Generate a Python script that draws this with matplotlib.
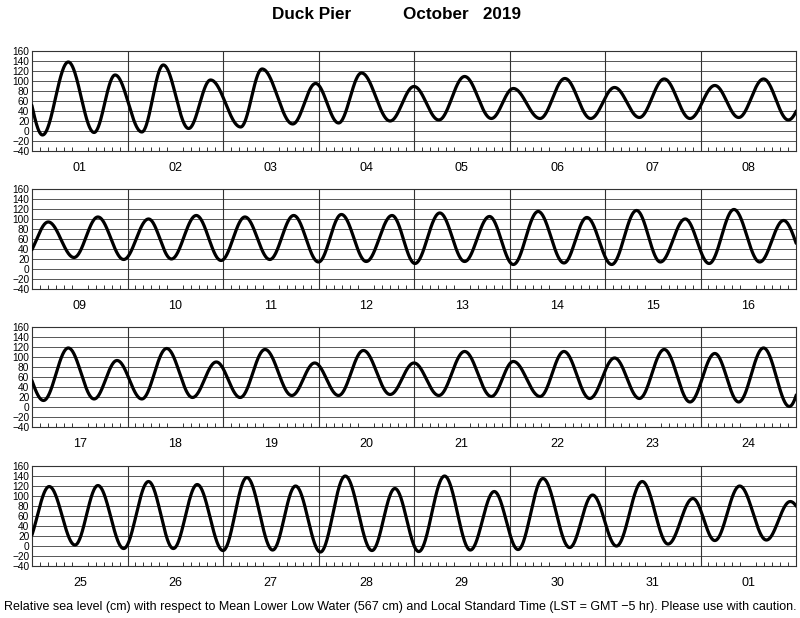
import numpy as np
import matplotlib
matplotlib.use("Agg")
import matplotlib.pyplot as plt

plt.rcParams['font.family'] = ['Liberation Sans', 'DejaVu Sans']

# high / low waters: time in days from Oct 1 00:00 LST, height in cm (MLLW)
ext_time = [
    -0.12, 0.11, 0.38, 0.65, 0.87, 1.15, 1.375, 1.64, 1.87, 2.185, 2.41, 2.73, 2.97, 3.21,
    3.45, 3.75, 4.00, 4.26, 4.53, 4.81, 5.04, 5.32, 5.58, 5.85, 6.10, 6.36, 6.62, 6.89,
    7.15, 7.40, 7.66, 7.92,
    8.17, 8.44, 8.69, 8.96, 9.22, 9.46, 9.72, 9.98, 10.23, 10.49, 10.74, 11.00, 11.24,
    11.50, 11.77, 12.01, 12.27, 12.53, 12.79, 13.04, 13.30, 13.57, 13.81, 14.07, 14.33,
    14.58, 14.84, 15.09, 15.35, 15.62, 15.87,
    16.12, 16.38, 16.65, 16.89, 17.15, 17.41, 17.68, 17.93, 18.18, 18.44, 18.72, 18.96,
    19.21, 19.47, 19.75, 20.00, 20.26, 20.53, 20.81, 21.04, 21.32, 21.57, 21.84, 22.10,
    22.36, 22.62, 22.89, 23.15, 23.40, 23.66, 23.93,
    24.18, 24.45, 24.69, 24.96, 25.22, 25.48, 25.73, 26.00, 26.25, 26.52, 26.76, 27.02,
    27.28, 27.56, 27.80, 28.05, 28.32, 28.59, 28.84, 29.09, 29.35, 29.63, 29.87, 30.12,
    30.39, 30.66, 30.92, 31.15, 31.41, 31.69, 31.94, 32.20,
]
ext_height = [
    116, -8, 138, -3, 112, -2, 132, 5, 102, 8, 124, 14, 95, 16,
    116, 20, 89, 22, 109, 25, 85, 25, 105, 25, 87, 27, 104, 25,
    91, 27, 104, 22,
    94, 23, 104, 19, 100, 20, 107, 17, 104, 19, 107, 14, 109,
    15, 107, 11, 112, 15, 105, 9, 115, 12, 103, 9, 117,
    14, 100, 11, 119, 14, 97,
    13, 118, 16, 93, 16, 117, 19, 90, 19, 115, 23, 88,
    23, 113, 25, 88, 23, 111, 21, 91, 21, 111, 17, 98,
    17, 115, 10, 107, 10, 118, 1,
    119, 2, 121, -5, 129, -5, 123, -9, 137, -8, 120, -12,
    140, -9, 115, -11, 140, -8, 109, -7, 135, -3, 102, 0,
    129, 4, 95, 11, 120, 12, 89, 20,
]

panel_days = [
    ["01", "02", "03", "04", "05", "06", "07", "08"],
    ["09", "10", "11", "12", "13", "14", "15", "16"],
    ["17", "18", "19", "20", "21", "22", "23", "24"],
    ["25", "26", "27", "28", "29", "30", "31", "01"],
]


def tide_curve(times, heights, step=1 / 288):
    # cosine shape between successive high and low waters
    tt, hh = [], []
    for i in range(len(times) - 1):
        t0, t1 = times[i], times[i + 1]
        h0, h1 = heights[i], heights[i + 1]
        t = np.arange(t0, t1, step)
        f = (t - t0) / (t1 - t0)
        tt.append(t)
        hh.append(h0 + (h1 - h0) * (1 - np.cos(np.pi * f)) / 2)
    return np.concatenate(tt), np.concatenate(hh)


t_all, h_all = tide_curve(ext_time, ext_height)

fig = plt.figure(figsize=(8, 6.18), dpi=100)

bottoms = [0.7557, 0.5324, 0.3091, 0.0841]
for p, days in enumerate(panel_days):
    ax = fig.add_axes([0.04, bottoms[p], 0.955, 0.1618])
    start = p * 8
    ax.plot(t_all - start, h_all, color="black", lw=2.3, solid_capstyle="round", zorder=3)
    ax.set_xlim(0, 8)
    ax.set_ylim(-40, 160)

    for y in range(-20, 160, 20):
        ax.axhline(y, color="#555555", lw=0.7, zorder=1)
    for d in range(1, 8):
        ax.axvline(d, color="#333333", lw=0.8, zorder=1)

    ax.set_yticks(range(-40, 161, 20))
    ax.set_yticklabels([str(v).replace("-", "\u2212") for v in range(-40, 161, 20)], fontsize=7.3)
    ax.tick_params(axis="y", length=0, pad=2)

    ax.set_xticks(np.arange(8) + 0.5)
    ax.set_xticklabels(days, fontsize=9)
    ax.tick_params(axis="x", which="major", length=0, pad=8)
    ax.set_xticks([d + h / 12 for d in range(8) for h in range(1, 12)], minor=True)
    ax.tick_params(axis="x", which="minor", direction="in", length=3, width=0.7, color="#333333")

    for s in ax.spines.values():
        s.set_color("#333333")
        s.set_linewidth(0.8)

fig.text(0.39, 0.977, "Duck Pier", ha="center", va="center", fontsize=12.3, fontweight="bold")
fig.text(0.578, 0.977, "October   2019", ha="center", va="center", fontsize=12.3, fontweight="bold")
fig.text(0.5, 0.018, "Relative sea level (cm) with respect to Mean Lower Low Water (567 cm) and "
         "Local Standard Time (LST = GMT \u22125 hr). Please use with caution.",
         ha="center", va="center", fontsize=9)

fig.savefig("out.png", dpi=100)
